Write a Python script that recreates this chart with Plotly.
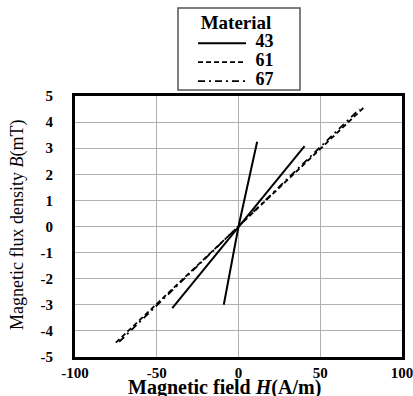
import plotly.graph_objects as go

# Data
h43 = [-9.0, 0.0, 11.4]
b43 = [-3.0, 0.0, 3.25]
h43b = [-40.5, 0.0, 40.4]
b43b = [-3.13, 0.0, 3.08]
h61 = [-75.0, 0.0, 76.5]
b61 = [-4.45, 0.0, 4.55]
h67 = [-73.0, 0.0, 74.0]
b67 = [-4.42, 0.0, 4.5]

xticks = [-100, -50, 0, 50, 100]
yticks = [-5, -4, -3, -2, -1, 0, 1, 2, 3, 4, 5]

FONT = "Liberation Serif"


def leg(t):
    return f'<span style="font-size:18px">&nbsp;<b>{t}</b></span>'


fig = go.Figure()
fig.add_trace(go.Scatter(x=h43, y=b43, mode="lines", name=leg("43"),
                         line=dict(color="black", width=2)))
fig.add_trace(go.Scatter(x=h43b, y=b43b, mode="lines", showlegend=False,
                         line=dict(color="black", width=2)))
fig.add_trace(go.Scatter(x=h61, y=b61, mode="lines", name=leg("61"),
                         line=dict(color="black", width=1.8, dash="5px,3px")))
fig.add_trace(go.Scatter(x=h67, y=b67, mode="lines", name=leg("67"),
                         line=dict(color="black", width=1.8,
                                   dash="7px,4px,2px,4px")))

# legend frame (decoration), in paper coordinates
fig.add_shape(type="rect", xref="paper", yref="paper",
              x0=(178 - 75) / 327, x1=(300 - 75) / 327,
              y0=(357 - 90) / 261, y1=(357 - 8) / 261,
              line=dict(color="#555555", width=1.5), fillcolor="white",
              layer="below")

fig.update_layout(
    width=413, height=396,
    margin=dict(l=75, r=11, t=96, b=39, autoexpand=False),
    paper_bgcolor="white", plot_bgcolor="white",
    font=dict(family=FONT, size=14, color="black"),
    legend=dict(
        title=dict(text="<b>Material</b>", side="top center",
                   font=dict(family=FONT, size=19)),
        x=(193 - 75) / 327, xanchor="left",
        y=(357 - 4) / 261, yanchor="top",
        borderwidth=0, bgcolor="rgba(0,0,0,0)",
        font=dict(family=FONT, size=11),
        tracegroupgap=0, itemwidth=48,
    ),
    xaxis=dict(
        range=[-100, 100], tickvals=xticks,
        ticktext=[f"<b>{v}</b>" for v in xticks],
        showgrid=True, gridcolor="#b0b0b0", gridwidth=1,
        zeroline=True, zerolinecolor="#b0b0b0", zerolinewidth=1,
        showline=True, linecolor="black", linewidth=3, mirror=True,
        ticks="", ticklabelstandoff=0, automargin=False,
        ticklabeloverflow="allow",
        tickfont=dict(family=FONT, size=15),
    ),
    yaxis=dict(
        range=[-5, 5], tickvals=yticks,
        ticktext=[f"<b>{v}</b>" for v in yticks],
        showgrid=True, gridcolor="#b0b0b0", gridwidth=1,
        zeroline=True, zerolinecolor="#b0b0b0", zerolinewidth=1,
        showline=True, linecolor="black", linewidth=3, mirror=True,
        ticks="", ticklabelstandoff=16, automargin=False,
        ticklabeloverflow="allow",
        tickfont=dict(family=FONT, size=15),
    ),
    annotations=[
        dict(text="<b>Magnetic field <i>H</i>(A/m)</b>", xref="paper",
             yref="paper", x=(224 - 75) / 327, y=0, yanchor="middle",
             xanchor="center", yshift=-30, showarrow=False,
             font=dict(family=FONT, size=20)),
        dict(text="Magnetic flux density <i>B</i>(mT)", xref="paper",
             yref="paper", x=0, xshift=-58, xanchor="center",
             y=(357 - 225) / 261, yanchor="middle",
             textangle=-90, showarrow=False,
             font=dict(family=FONT, size=18)),
    ],
)

fig.write_html("out.html")
